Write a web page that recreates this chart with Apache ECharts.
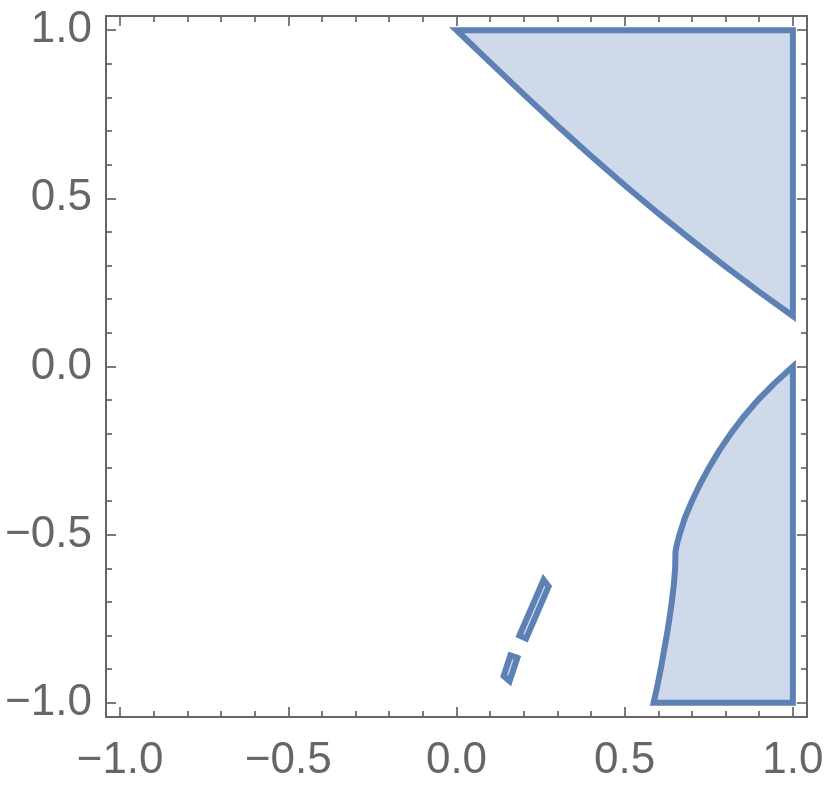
<!DOCTYPE html>
<html>
<head>
<meta charset="utf-8">
<title>Region plot</title>
<script src="https://cdn.jsdelivr.net/npm/echarts@6.0.0/dist/echarts.min.js"></script>
<style>
html, body { margin: 0; padding: 0; background: #fff; }
#chart { width: 830px; height: 798px; }
</style>
</head>
<body>
<div id="chart"></div>
<script>
// ticks (same on both axes)
var majorTicks = [-1, -0.5, 0, 0.5, 1];
var minorTicks = [-0.9, -0.8, -0.7, -0.6, -0.4, -0.3, -0.2, -0.1,
                  0.1, 0.2, 0.3, 0.4, 0.6, 0.7, 0.8, 0.9];
var tickLabels = ['\u22121.0', '\u22120.5', '0.0', '0.5', '1.0'];

// upper region: top edge, right edge, then the curve back to (0, 1)
var upperX = [0, 1, 1, 0.9, 0.8, 0.7, 0.6, 0.5, 0.4, 0.3, 0.2, 0.1];
var upperY = [1, 1, 0.15, 0.222, 0.297, 0.375, 0.455, 0.539, 0.626, 0.716, 0.809, 0.904];

// lower region: right edge, bottom edge, then the left boundary up to (1, 0)
var lowerX = [1, 1, 0.586, 0.597, 0.607, 0.616, 0.625, 0.633, 0.640, 0.646, 0.650, 0.651, 0.656,
              0.663, 0.679, 0.700, 0.724, 0.751, 0.781, 0.815, 0.853, 0.896, 0.945];
var lowerY = [0, -1, -1, -0.95, -0.9, -0.85, -0.8, -0.75, -0.7, -0.65, -0.6, -0.55, -0.525,
              -0.5, -0.45, -0.4, -0.35, -0.3, -0.25, -0.2, -0.15, -0.1, -0.05];

// two thin slivers
var sliverAX = [0.259, 0.274, 0.207, 0.187];
var sliverAY = [-0.634, -0.654, -0.809, -0.800];
var sliverBX = [0.160, 0.181, 0.158, 0.140];
var sliverBY = [-0.859, -0.866, -0.935, -0.920];

var frameColor = '#666666';
var axisMin = -1.042, axisMax = 1.042;

function fmt(v) {
    var i = majorTicks.indexOf(v);
    return i >= 0 ? tickLabels[i] : '';
}

function makeAxis(position, ticks, len, withLine, withLabel) {
    return {
        type: 'value',
        position: position,
        min: axisMin,
        max: axisMax,
        axisLine: {
            show: withLine,
            onZero: false,
            lineStyle: { color: frameColor, width: 2 }
        },
        axisTick: {
            show: true,
            inside: true,
            length: len,
            customValues: ticks,
            lineStyle: { color: frameColor, width: 1.7 }
        },
        axisLabel: {
            show: withLabel,
            customValues: majorTicks,
            formatter: fmt,
            color: frameColor,
            fontSize: 44,
            fontFamily: 'Liberation Sans',
            margin: 14
        },
        splitLine: { show: false }
    };
}

function regionSeries(xs, ys) {
    return {
        type: 'custom',
        coordinateSystem: 'cartesian2d',
        xAxisIndex: 0,
        yAxisIndex: 0,
        silent: true,
        data: xs.map(function (x, i) { return [x, ys[i]]; }),
        renderItem: function (params, api) {
            if (params.dataIndex !== 0) return null;
            var pts = xs.map(function (x, i) { return api.coord([x, ys[i]]); });
            return {
                type: 'polygon',
                shape: { points: pts },
                style: {
                    fill: 'rgba(94, 129, 181, 0.3)',
                    stroke: '#5e81b5',
                    lineWidth: 6,
                    lineJoin: 'miter',
                    miterLimit: 10
                }
            };
        }
    };
}

var myChart = echarts.init(document.getElementById('chart'));

var xBottom = makeAxis('bottom', majorTicks, 10, true, true);
xBottom.axisLabel.margin = 22;
var yLeft = makeAxis('left', majorTicks, 10, true, true);

var option = {
    animation: false,
    backgroundColor: '#fff',
    grid: { left: 106, right: 23, top: 16, bottom: 81 },
    xAxis: [
        xBottom,
        makeAxis('bottom', minorTicks, 6, false, false),
        makeAxis('top', majorTicks, 10, true, false),
        makeAxis('top', minorTicks, 6, false, false)
    ],
    yAxis: [
        yLeft,
        makeAxis('left', minorTicks, 6, false, false),
        makeAxis('right', majorTicks, 10, true, false),
        makeAxis('right', minorTicks, 6, false, false)
    ],
    series: [
        regionSeries(upperX, upperY),
        regionSeries(lowerX, lowerY),
        regionSeries(sliverAX, sliverAY),
        regionSeries(sliverBX, sliverBY)
    ]
};

option && myChart.setOption(option);
</script>
</body>
</html>
